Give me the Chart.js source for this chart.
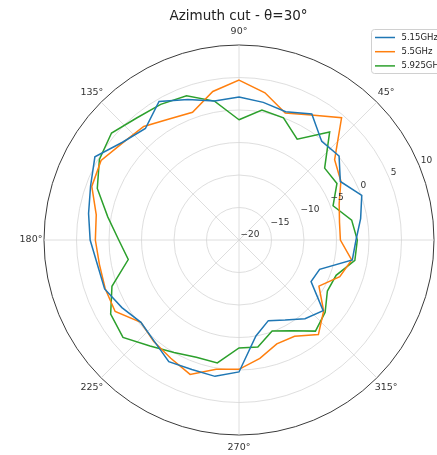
<!DOCTYPE html>
<html>
<head>
<meta charset="utf-8">
<script src="https://cdn.jsdelivr.net/npm/chart.js@4.4.1/dist/chart.umd.min.js"></script>
<style>
  html, body { margin: 0; padding: 0; background: #fff; }
  #contenedor { position: relative; width: 437px; height: 455px; }
</style>
</head>
<body>
<div id="contenedor"><canvas id="graficoPolar"></canvas></div>
<script>
// Angulos medidos (grados, 0 = derecha, sentido antihorario)
const angulos = [0, 10, 20, 30, 40, 50, 60, 70, 80, 90, 100, 110, 120, 130, 140, 150, 160, 170,
  180, 190, 200, 210, 220, 230, 240, 250, 260, 270, 280, 290, 300, 310, 320, 330, 340, 350];

// Ganancia (dB) por angulo
const serie515 = [-2.0, -1.0, 0.1, -2.0, 0.1, -0.2, 2.4, 1.0, 1.5, 2.0,
  1.7, 3.0, 4.6, 2.4, 3.4, 5.6, 4.3, 3.5, 2.9, 2.1,
  2.0, 0.8, -0.3, 0.3, 1.6, 1.2, 1.3, 0.3, -5.0, -6.8,
  -5.8, -4.2, -3.1, -7.2, -6.8, -2.3];
const serie55 = [-4.4, -4.3, -3.6, -1.9, -0.8, 4.55, 2.2, 0.8, 3.0, 4.6,
  3.2, 0.9, 1.5, 2.8, 3.3, 4.5, 4.1, 2.3, 2.1, 1.8,
  1.9, 2.0, -0.3, 0.4, 1.0, 2.0, 0.2, -0.1, -1.5, -3.0,
  -2.9, -1.0, -3.0, -5.8, -3.5, -2.4];
const serie5925 = [-1.8, -2.4, -4.6, -2.6, -2.8, 1.7, -2.1, 0.0, 0.3, -1.5,
  1.7, 3.6, 4.1, 4.5, 5.6, 4.8, 3.2, 0.5, -1.5, -2.7,
  0.8, 2.8, 3.3, 1.3, 0.0, -0.8, -0.8, -3.4, -3.3, -5.1,
  -3.9, -1.7, -2.7, -4.3, -4.1, -1.9];

const nombresSerie = ['5.15GHz', '5.5GHz', '5.925GHz'];
const coloresSerie = ['#1f77b4', '#ff7f0e', '#2ca02c'];
const ticksRadiales = [-20, -15, -10, -5, 0, 5, 10];
const etiquetasAngulo = [0, 45, 90, 135, 180, 225, 270, 315];
const titulo = 'Azimuth cut - θ=30°';

// El radar va en sentido horario desde arriba: 72 posiciones de 5°, empezando en 90°
const angulosGrafico = [];
for (let i = 0; i < 72; i++) {
  angulosGrafico.push((450 - 5 * i) % 360);
}

function aRadar(valores) {
  return angulosGrafico.map(a => {
    const k = angulos.indexOf(a);
    return k >= 0 ? valores[k] : null;
  });
}

// Titulo, leyenda y etiquetas al estilo matplotlib
const decoracion = {
  id: 'decoracion',
  afterDraw(chart) {
    const ctx = chart.ctx;
    const escala = chart.scales.r;
    ctx.save();
    ctx.textAlign = 'center';
    ctx.textBaseline = 'middle';

    ctx.fillStyle = '#222';
    ctx.font = '13.5px "DejaVu Sans"';
    ctx.fillText(titulo, 238.5, 16);

    ctx.font = '9.5px "DejaVu Sans"';
    ctx.fillStyle = '#333';
    etiquetasAngulo.forEach(a => {
      const idx = angulosGrafico.indexOf(a);
      const p = escala.getPointPosition(idx, escala.drawingArea + 13);
      ctx.fillText(a + '°', p.x, p.y);
    });

    // etiquetas radiales sobre la direccion de 22.5°
    ctx.font = '9px "DejaVu Sans"';
    ctx.textAlign = 'left';
    const rad = 22.5 * Math.PI / 180;
    ticksRadiales.forEach(v => {
      const d = escala.getDistanceFromCenterForValue(v);
      const x = escala.xCenter + d * Math.cos(rad);
      const y = escala.yCenter - d * Math.sin(rad);
      ctx.fillText(String(v).replace('-', '\u2212'), x + 1.5, y - 5);
    });

    // leyenda
    ctx.fillStyle = 'rgba(255,255,255,0.85)';
    ctx.strokeStyle = '#d0d0d0';
    ctx.lineWidth = 1;
    ctx.beginPath();
    ctx.roundRect(371.5, 29.5, 90, 44, 3);
    ctx.fill();
    ctx.stroke();
    ctx.font = '8.5px "DejaVu Sans"';
    chart.data.datasets.forEach((ds, i) => {
      const y = 37.5 + i * 14.2;
      ctx.strokeStyle = ds.borderColor;
      ctx.lineWidth = 1.5;
      ctx.beginPath();
      ctx.moveTo(375, y);
      ctx.lineTo(395, y);
      ctx.stroke();
      ctx.fillStyle = '#222';
      ctx.fillText(ds.label, 401.5, y);
    });
    ctx.restore();
  }
};

const series = [serie515, serie55, serie5925];

new Chart(document.getElementById('graficoPolar'), {
  type: 'radar',
  data: {
    labels: angulosGrafico,
    datasets: series.map((s, i) => ({
      label: nombresSerie[i],
      data: aRadar(s),
      borderColor: coloresSerie[i],
      backgroundColor: 'rgba(0,0,0,0)',
      borderWidth: 1.5,
      pointRadius: 0,
      fill: false,
      spanGaps: true,
      tension: 0
    }))
  },
  options: {
    responsive: true,
    maintainAspectRatio: false,
    animation: false,
    layout: { padding: { left: 44, right: 3, top: 45, bottom: 19 } },
    plugins: {
      legend: { display: false },
      title: { display: false },
      tooltip: { enabled: false }
    },
    scales: {
      r: {
        min: -20,
        max: 10,
        startAngle: 0,
        ticks: { display: false, stepSize: 5 },
        pointLabels: { display: false },
        grid: {
          circular: true,
          color: ctx => ctx.index === 0 ? 'rgba(0,0,0,0)' : (ctx.tick && ctx.tick.value === 10 ? '#3a3a3a' : '#d6d6d6'),
          lineWidth: ctx => ctx.tick && ctx.tick.value === 10 ? 1 : 0.8
        },
        angleLines: {
          color: '#d6d6d6',
          lineWidth: ctx => ctx.index % 9 === 0 ? 0.8 : 0
        }
      }
    }
  },
  plugins: [decoracion]
});
</script>
</body>
</html>
